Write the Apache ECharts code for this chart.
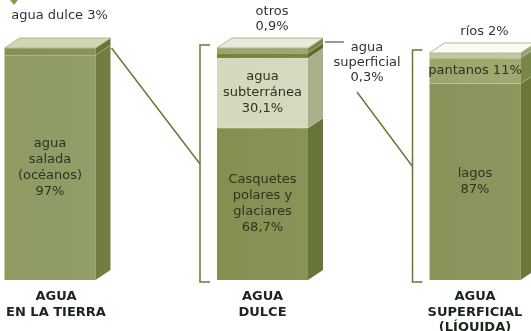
<!DOCTYPE html>
<html>
<head>
<meta charset="utf-8">
<script src="https://cdn.jsdelivr.net/npm/echarts@6/dist/echarts.min.js"></script>
<style>
html,body{margin:0;padding:0;background:#fff;}
#main{width:531px;height:331px;}
</style>
</head>
<body>
<div id="main"></div>
<script>
var categories = ['AGUA\nEN LA TIERRA', 'AGUA\nDULCE', 'AGUA\nSUPERFICIAL\n(LÍQUIDA)'];
// segmentos de cada barra, de abajo a arriba
var tierraNames = ['agua\nsalada\n(océanos)', 'agua dulce'];
var tierraValues = [97, 3];
var dulceNames = ['Casquetes\npolares y\nglaciares', 'agua\nsubterránea', 'otros', 'agua\nsuperficial'];
var dulceValues = [68.7, 30.1, 0.9, 0.3];
var superficialNames = ['lagos', 'pantanos', 'ríos'];
var superficialValues = [87, 11, 2];

var bars = [
	{names: tierraNames, values: tierraValues},
	{names: dulceNames, values: dulceValues},
	{names: superficialNames, values: superficialValues}
];

// estilo de cada segmento (mismo orden)
var segStyles = [
	[
		{front: '#8e9a62', side: '#717e40', pos: 'inside', sep: '\n'},
		{front: '#858f55', side: '#687539', pos: 'above', sep: ' ', lift: 11}
	],
	[
		{front: '#858f52', side: '#67743a', pos: 'inside', sep: '\n'},
		{front: '#d3d9bd', side: '#a7b088', pos: 'inside', sep: '\n'},
		{front: '#76833f', side: '#5c692f', pos: 'above', sep: '\n', lift: 0},
		{front: '#9aa56c', side: '#7a874a', pos: 'right', sep: '\n'}
	],
	[
		{front: '#88935a', side: '#6a7739', pos: 'inside', sep: '\n'},
		{front: '#9ba56b', side: '#79864a', pos: 'inside', sep: ' '},
		{front: '#bfc69f', side: '#98a274', pos: 'above', sep: ' ', lift: 0}
	]
];
var topColors = ['#d0d7b5', '#e8ebdb', '#fbfbf6'];
var topInset = [0, 0, 5];

var BW = 91, DX = 15, DY = 10, MINPX = 5;
var FONT = '13px "DejaVu Sans"';
var lineColor = '#6b7836';

function fmt(v) {
	return String(v).replace('.', ',') + '%';
}

function barGeom(api, i) {
	var base = api.coord([i, 0]);
	var top = api.coord([i, 100]);
	return {cx: base[0], x0: base[0] - BW / 2, x1: base[0] + BW / 2, yb: base[1], yt: top[1] + topInset[i]};
}

function renderBar(params, api) {
	var i = api.value(0);
	var bar = bars[i];
	var st = segStyles[i];
	var g = barGeom(api, i);
	var children = [];
	var n = bar.values.length;

	// limites en pixeles, de arriba a abajo
	var bounds = [];
	var y = g.yt;
	for (var k = n - 1; k > 0; k--) {
		var h = Math.max(MINPX, api.size([0, bar.values[k]])[1]);
		bounds[k] = [y, y + h];
		y += h;
	}
	bounds[0] = [y, g.yb];

	// corchete y linea desde la barra anterior
	if (i > 0) {
		var p = barGeom(api, i - 1);
		var bx = g.x0 - 17;
		var midY = (g.yt + g.yb) / 2;
		children.push({
			type: 'polyline',
			shape: {points: [[g.x0 - 7, g.yt - 3], [bx, g.yt - 3], [bx, g.yb + 2], [g.x0 - 7, g.yb + 2]]},
			style: {stroke: lineColor, lineWidth: 1.5, fill: null}
		});
		var from;
		if (i == 1) {
			from = [p.x1 + DX + 1, p.yt];
		} else {
			from = [p.x1 + DX + 34, p.yt + 44];
		}
		children.push({
			type: 'line',
			shape: {x1: from[0], y1: from[1], x2: bx, y2: midY},
			style: {stroke: lineColor, lineWidth: 1.5}
		});
	}

	for (var k = 0; k < n; k++) {
		var t = bounds[k][0], b = bounds[k][1];
		var s = st[k];
		children.push({
			type: 'rect',
			shape: {x: g.x0, y: t, width: BW, height: b - t},
			style: {
				fill: new echarts.graphic.LinearGradient(0, 0, 1, 0, [
					{offset: 0, color: s.front},
					{offset: 1, color: echarts.color.lift(s.front, 0.04)}
				])
			}
		});
		children.push({
			type: 'polygon',
			shape: {points: [[g.x1, t], [g.x1 + DX, t - DY], [g.x1 + DX, b - DY], [g.x1, b]]},
			style: {fill: s.side}
		});
		if (k < n - 1) {
			children.push({
				type: 'polyline',
				shape: {points: [[g.x0, t], [g.x1, t], [g.x1 + DX, t - DY]]},
				style: {stroke: 'rgba(230,235,210,0.7)', lineWidth: 1, fill: null}
			});
		}
		var txt = bar.names[k] + s.sep + fmt(bar.values[k]);
		if (s.pos == 'inside') {
			children.push({
				type: 'text',
				style: {text: txt, x: g.cx, y: (t + b) / 2, align: 'center', verticalAlign: 'middle',
					font: FONT, lineHeight: 16, fill: '#2e3322'}
			});
		} else if (s.pos == 'above') {
			children.push({
				type: 'text',
				style: {text: txt, x: g.cx + DX / 2 + 2, y: g.yt - DY - 4 - s.lift, align: 'center', verticalAlign: 'bottom',
					font: FONT, lineHeight: 15, fill: '#333'}
			});
		} else {
			children.push({
				type: 'line',
				shape: {x1: g.x1 + DX + 2, y1: g.yt - 6, x2: g.x1 + DX + 21, y2: g.yt - 6},
				style: {stroke: '#333', lineWidth: 1}
			});
			children.push({
				type: 'text',
				style: {text: txt, x: g.x1 + DX + 44, y: g.yt - 8, align: 'center', verticalAlign: 'top',
					font: FONT, lineHeight: 15, fill: '#333'}
			});
		}
	}

	// cara superior
	children.push({
		type: 'polygon',
		shape: {points: [[g.x0, g.yt], [g.x0 + DX, g.yt - DY], [g.x1 + DX, g.yt - DY], [g.x1, g.yt]]},
		style: {fill: topColors[i], stroke: '#b3bb90', lineWidth: 1}
	});

	return {type: 'group', children: children};
}

var labelFont = {fontFamily: 'DejaVu Sans', fontWeight: 'bold', fontSize: 13, lineHeight: 15.5, color: '#1b261a'};

var myChart = echarts.init(document.getElementById('main'));
var option = {
	animation: false,
	grid: {left: 50, right: 56, top: 48, bottom: 51, outerBoundsMode: 'none', containLabel: false},
	xAxis: {
		type: 'category',
		data: categories,
		boundaryGap: false,
		axisLine: {show: false},
		axisTick: {show: false},
		axisLabel: {
			margin: 9,
			interval: 0,
			hideOverlap: false,
			fontFamily: 'DejaVu Sans',
			fontWeight: 'bold',
			fontSize: 13,
			lineHeight: 15.5,
			color: '#1b261a',
			verticalAlign: 'top',
			formatter: function(value, index) {
				// la primera etiqueta va un poco a la derecha
				if (index == 0) {
					return value.split('\n').map(function(l) { return '{s|' + l + '}'; }).join('\n');
				}
				return value;
			},
			rich: {
				s: Object.assign({padding: [0, 0, 0, 12]}, labelFont)
			}
		}
	},
	yAxis: {type: 'value', min: 0, max: 100, show: false},
	graphic: [{
		type: 'polygon',
		shape: {points: [[10, 0], [14, 5], [18, 0]]},
		style: {fill: '#8a9a48'}
	}],
	series: [{
		type: 'custom',
		renderItem: renderBar,
		data: [[0, 100], [1, 100], [2, 100]]
	}]
};
myChart.setOption(option);
</script>
</body>
</html>
